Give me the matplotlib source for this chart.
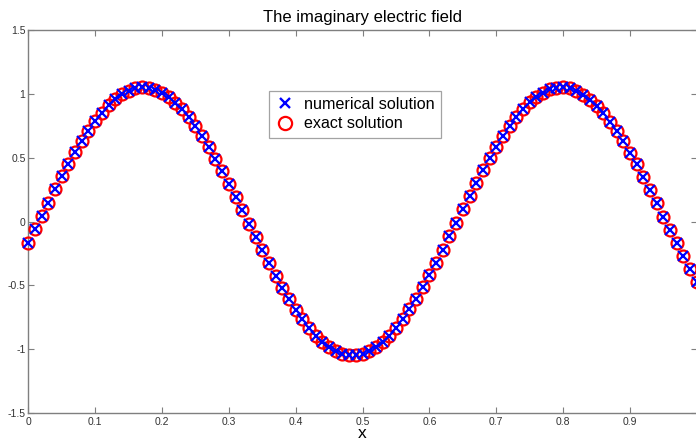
import matplotlib
matplotlib.use("Agg")
import matplotlib.pyplot as plt
from matplotlib.lines import Line2D

plt.rcParams['font.family'] = ['Liberation Sans', 'DejaVu Sans']

x_values = [i / 100 for i in range(101)]
exact_values = [
    -0.167, -0.062, 0.043, 0.148, 0.252, 0.353, 0.450, 0.543, 0.630, 0.711,
    0.785, 0.851, 0.909, 0.957, 0.995, 1.024, 1.042, 1.050, 1.047, 1.033,
    1.009, 0.975, 0.931, 0.878, 0.816, 0.745, 0.667, 0.583, 0.492, 0.396,
    0.297, 0.194, 0.090, -0.016, -0.121, -0.225, -0.327, -0.425, -0.519, -0.608,
    -0.691, -0.767, -0.835, -0.894, -0.946, -0.986, -1.017, -1.038, -1.049, -1.049,
    -1.038, -1.017, -0.985, -0.944, -0.893, -0.833, -0.764, -0.688, -0.605, -0.516,
    -0.422, -0.323, -0.221, -0.117, -0.012, 0.094, 0.198, 0.301, 0.400, 0.495,
    0.586, 0.670, 0.748, 0.818, 0.880, 0.933, 0.977, 1.010, 1.034, 1.047,
    1.050, 1.042, 1.023, 0.994, 0.955, 0.907, 0.849, 0.783, 0.709, 0.627,
    0.540, 0.447, 0.349, 0.248, 0.144, 0.039, -0.066, -0.171, -0.274, -0.375,
    -0.471,
]
numerical_values = list(exact_values)

title = "The imaginary electric field"
xlabel = "x"
x_ticks = [0, 0.1, 0.2, 0.3, 0.4, 0.5, 0.6, 0.7, 0.8, 0.9, 1]
x_ticklabels = ["0", "0.1", "0.2", "0.3", "0.4", "0.5", "0.6", "0.7", "0.8", "0.9", ""]
y_ticks = [-1.5, -1, -0.5, 0, 0.5, 1, 1.5]
y_ticklabels = ["-1.5", "-1", "-0.5", "0", "0.5", "1", "1.5"]
legend_labels = ["numerical solution", "exact solution"]

W, H = 696, 444
fig = plt.figure(figsize=(W / 100, H / 100), dpi=100)
left, right, top, bottom = 28.3, 696.8, 30, 413
ax = fig.add_axes([left / W, (H - bottom) / H, (right - left) / W, (bottom - top) / H])

ax.plot(x_values, exact_values, linestyle='none', marker='o', markersize=8.6,
        markerfacecolor='none', markeredgecolor='#ff0000', markeredgewidth=1.6,
        clip_on=False, zorder=3)
ax.plot(x_values, numerical_values, linestyle='none', marker='x', markersize=6.8,
        color='#0000ff', markeredgewidth=1.6, clip_on=False, zorder=4)

ax.set_xlim(0, 1)
ax.set_ylim(-1.5, 1.5)
ax.set_xticks(x_ticks)
ax.set_xticklabels(x_ticklabels)
ax.set_yticks(y_ticks)
ax.set_yticklabels(y_ticklabels)

spine_color = '#7f7f7f'
for s in ax.spines.values():
    s.set_color(spine_color)
    s.set_linewidth(1.0)
ax.tick_params(direction='in', length=4.5, width=0.8, color=spine_color,
               labelsize=7.5, labelcolor='#333333', top=True, right=True, pad=3)
ax.tick_params(axis='y', pad=2)

ax.set_title(title, fontsize=12, pad=6)
ax.set_xlabel(xlabel, fontsize=12.5, labelpad=-1)

handles = [
    Line2D([], [], linestyle='none', marker='x', markersize=7, color='#0000ff',
           markeredgewidth=1.7),
    Line2D([], [], linestyle='none', marker='o', markersize=9.5, markerfacecolor='none',
           markeredgecolor='#ff0000', markeredgewidth=1.6),
]
leg = ax.legend(handles, legend_labels, loc='upper left', bbox_to_anchor=(0.36, 0.842),
                fontsize=11.6, frameon=True, fancybox=False, edgecolor='#8c8c8c',
                handlelength=1.2, handletextpad=0.6, borderpad=0.38, labelspacing=0.3,
                borderaxespad=0)
leg.get_frame().set_linewidth(0.9)

fig.savefig("out.png", dpi=100)
